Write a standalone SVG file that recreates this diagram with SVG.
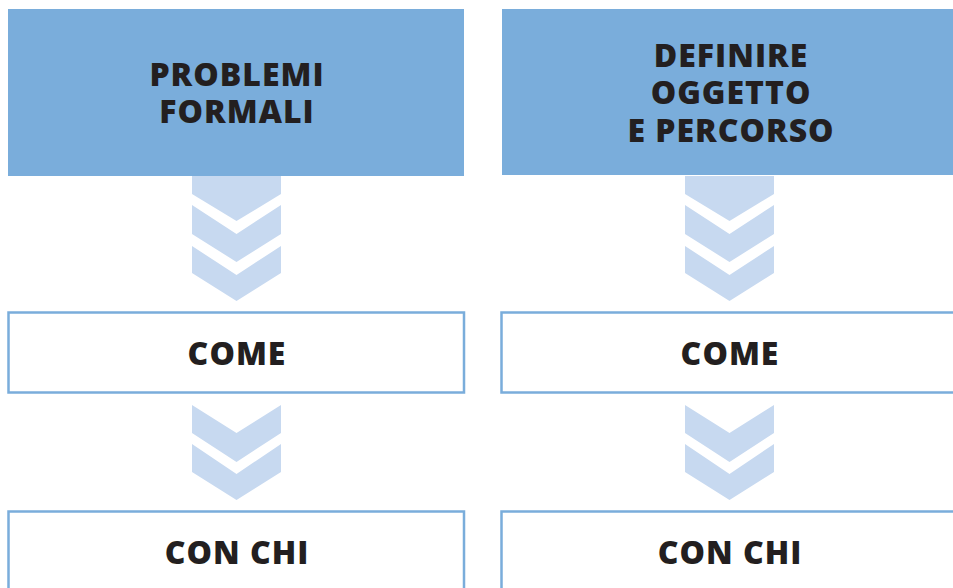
<svg xmlns="http://www.w3.org/2000/svg" width="953" height="588" viewBox="0 0 953 588">
<style>
.head{fill:#7aaddb}
.box{fill:#ffffff;stroke:#7aaddb;stroke-width:2.5}
.chev{fill:#c7d9f0}
.t{font-family:"Open Sans","Liberation Sans",Arial,sans-serif;font-weight:800;font-size:32px;letter-spacing:1px;fill:#231f20;text-anchor:middle}
</style>
<rect width="953" height="588" fill="#ffffff"/>
<g id="connectors">
  <g transform="translate(0,0)">
    <polygon class="chev" points="192,176 281,176 281,194 236.5,221 192,194"/>
    <polygon class="chev" points="192,205 236.5,234 281,205 281,234 236.5,262 192,234"/>
    <polygon class="chev" points="192,246 236.5,275 281,246 281,273 236.5,301 192,273"/>
    <polygon class="chev" points="192,405 236.5,433 281,405 281,433 236.5,462 192,433"/>
    <polygon class="chev" points="192,444 236.5,474 281,444 281,472 236.5,500 192,472"/>
  </g>
  <g transform="translate(493,0)">
    <polygon class="chev" points="192,176 281,176 281,194 236.5,221 192,194"/>
    <polygon class="chev" points="192,205 236.5,234 281,205 281,234 236.5,262 192,234"/>
    <polygon class="chev" points="192,246 236.5,275 281,246 281,273 236.5,301 192,273"/>
    <polygon class="chev" points="192,405 236.5,433 281,405 281,433 236.5,462 192,433"/>
    <polygon class="chev" points="192,444 236.5,474 281,444 281,472 236.5,500 192,472"/>
  </g>
</g>
<g id="problemi-formali">
  <rect class="head" x="8" y="9" width="456" height="167"/>
  <text class="t" x="237" y="86">PROBLEMI</text>
  <text class="t" x="237" y="123">FORMALI</text>
</g>
<g id="definire-oggetto">
  <rect class="head" x="502" y="9" width="451" height="166"/>
  <text class="t" x="731" y="67">DEFINIRE</text>
  <text class="t" x="731" y="104">OGGETTO</text>
  <text class="t" x="731" y="142">E PERCORSO</text>
</g>
<g id="come-left">
  <rect class="box" x="8.5" y="312.5" width="455.5" height="80"/>
  <text class="t" x="237" y="365">COME</text>
</g>
<g id="come-right">
  <rect class="box" x="501.5" y="312.5" width="460" height="80"/>
  <text class="t" x="730" y="365">COME</text>
</g>
<g id="conchi-left">
  <rect class="box" x="8.5" y="511.5" width="455.5" height="90"/>
  <text class="t" x="237" y="564">CON CHI</text>
</g>
<g id="conchi-right">
  <rect class="box" x="501.5" y="511.5" width="460" height="90"/>
  <text class="t" x="730" y="564">CON CHI</text>
</g>
</svg>
